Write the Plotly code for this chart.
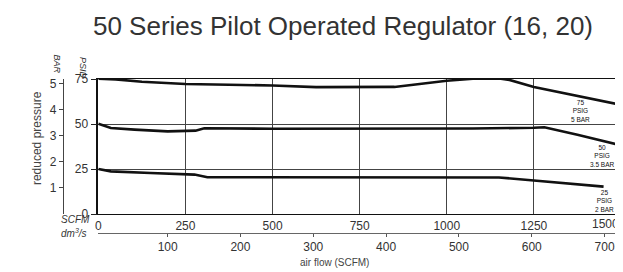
import plotly.graph_objects as go

# ---- data ----
scfm_75 = [0, 50, 125, 250, 375, 500, 625, 750, 850, 1000, 1075, 1150, 1180, 1250, 1375, 1500]
psi_75 = [75.2, 74.8, 73.5, 72.2, 71.8, 71.4, 70.5, 70.4, 70.6, 74.0, 75.2, 75.3, 74.5, 70.5, 65.5, 60.6]

scfm_50 = [0, 15, 36, 104, 199, 279, 304, 500, 750, 1000, 1075, 1250, 1280, 1375, 1500]
psi_50 = [50.2, 49.3, 47.8, 46.9, 45.9, 46.3, 47.6, 47.4, 47.3, 47.3, 47.5, 47.9, 48.2, 44.0, 38.1]

scfm_25 = [0, 36, 150, 276, 313, 500, 750, 1000, 1150, 1250, 1450]
psi_25 = [25.0, 23.7, 22.8, 21.9, 20.4, 20.4, 20.4, 20.4, 20.3, 18.6, 15.2]

curve_labels = ["75<br>PSIG<br>5 BAR", "50<br>PSIG<br>3.5 BAR", "25<br>PSIG<br>2 BAR"]
label_x = [1384, 1446, 1452]
label_y = [57.5, 32.2, 7.5]

scfm_ticks = [0, 250, 500, 750, 1000, 1250, 1500]
psid_ticks = [0, 25, 50, 75]
bar_ticks = [1, 2, 3, 4, 5]
dm3s_ticks = [100, 200, 300, 400, 500, 600, 700]
PSI_PER_BAR = 14.5

TXT = "#333333"
FONT = "Liberation Sans, Arial, sans-serif"

fig = go.Figure()
for xs, ys in [(scfm_75, psi_75), (scfm_50, psi_50), (scfm_25, psi_25)]:
    fig.add_trace(go.Scatter(x=xs, y=ys, mode="lines",
                             line=dict(color="#111111", width=2.6),
                             showlegend=False, hoverinfo="skip"))
# empty helper traces so the secondary axes are created
fig.add_trace(go.Scatter(x=[None], y=[None], xaxis="x", yaxis="y2", mode="lines",
                         showlegend=False, hoverinfo="skip"))
fig.add_trace(go.Scatter(x=[None], y=[None], xaxis="x2", yaxis="y", mode="lines",
                         showlegend=False, hoverinfo="skip"))

W, H = 623, 272
ml, mr, mt, mb = 40, 8, 71, 32
pw, ph = W - ml - mr, H - mt - mb

def px_x(p):
    return (p - ml) / pw

def px_y(p):
    return (H - mb - p) / ph

x_dom = [px_x(90.5), 1.0]
y_dom = [px_y(206), 1.0]

fig.update_layout(
    width=W, height=H,
    margin=dict(l=ml, r=mr, t=mt, b=mb),
    paper_bgcolor="white", plot_bgcolor="white",
    font=dict(family=FONT, color=TXT, size=12),
    title=dict(text="50 Series Pilot Operated Regulator (16, 20)",
               x=335 / W, xref="container", xanchor="center",
               y=1 - 18 / H, yref="container", yanchor="middle",
               font=dict(size=26, color=TXT, family=FONT)),
    xaxis=dict(domain=x_dom, range=[0, 1500], anchor="y",
               tickvals=scfm_ticks[:-1], ticktext=[str(v) for v in scfm_ticks[:-1]],
               showgrid=True, gridcolor="#444444", gridwidth=1,
               showline=True, mirror=True, linecolor="#111111", linewidth=1.2,
               ticks="", zeroline=False, tickfont=dict(size=12, color=TXT)),
    yaxis=dict(domain=y_dom, range=[0, 75], anchor="x",
               tickvals=psid_ticks, ticks="outside", ticklen=6, tickcolor="#222222",
               showgrid=True, gridcolor="#444444", gridwidth=1,
               showline=True, mirror=True, linecolor="#111111", linewidth=1.6,
               zeroline=False, tickfont=dict(size=12, color=TXT)),
    yaxis2=dict(overlaying="y", anchor="free", position=px_x(55), side="left",
                range=[0, 75 / PSI_PER_BAR], tickvals=bar_ticks,
                ticks="outside", ticklen=4, tickcolor="#444444",
                showline=True, linecolor="#444444", linewidth=1.4,
                showgrid=False, zeroline=False, tickfont=dict(size=12, color=TXT)),
    xaxis2=dict(overlaying="x", anchor="free", position=px_y(225), side="bottom",
                range=[4.8, 722.6], tickvals=dm3s_ticks,
                ticks="outside", ticklen=3, tickcolor="#555555",
                showline=True, linecolor="#666666", linewidth=1,
                showgrid=False, zeroline=False, tickfont=dict(size=12, color=TXT)),
)

ann = []
for t, x, y in zip(curve_labels, label_x, label_y):
    ann.append(dict(text=t, x=x, y=y, xref="x", yref="y", showarrow=False,
                    font=dict(size=6.5, color="#111111", family=FONT),
                    xanchor="center", yanchor="middle"))
ann += [
    dict(text=str(scfm_ticks[-1]), x=scfm_ticks[-1], xref="x", y=px_y(216), yref="paper",
         xanchor="right", yanchor="middle", showarrow=False, font=dict(size=12, color=TXT)),
    dict(text="<i>BAR</i>", x=px_x(43), y=px_y(45), xref="paper", yref="paper",
         textangle=90, showarrow=False, font=dict(size=9, color=TXT)),
    dict(text="<i>PSID</i>", x=px_x(68), y=px_y(47), xref="paper", yref="paper",
         textangle=90, showarrow=False, font=dict(size=9, color=TXT)),
    dict(text="<i>SCFM</i>", x=px_x(51), y=px_y(219), xref="paper", yref="paper",
         showarrow=False, font=dict(size=10, color=TXT)),
    dict(text="<i>dm<sup>3</sup>/s</i>", x=px_x(51), y=px_y(233), xref="paper", yref="paper",
         showarrow=False, font=dict(size=10, color=TXT)),
    dict(text="reduced pressure", x=px_x(20), y=px_y(130), xref="paper", yref="paper",
         textangle=-90, showarrow=False, font=dict(size=12, color="#444444")),
    dict(text="air flow (SCFM)", x=px_x(327), y=px_y(262), xref="paper", yref="paper",
         showarrow=False, font=dict(size=10, color="#444444")),
]
fig.update_layout(annotations=ann)

fig.write_html("out.html")
